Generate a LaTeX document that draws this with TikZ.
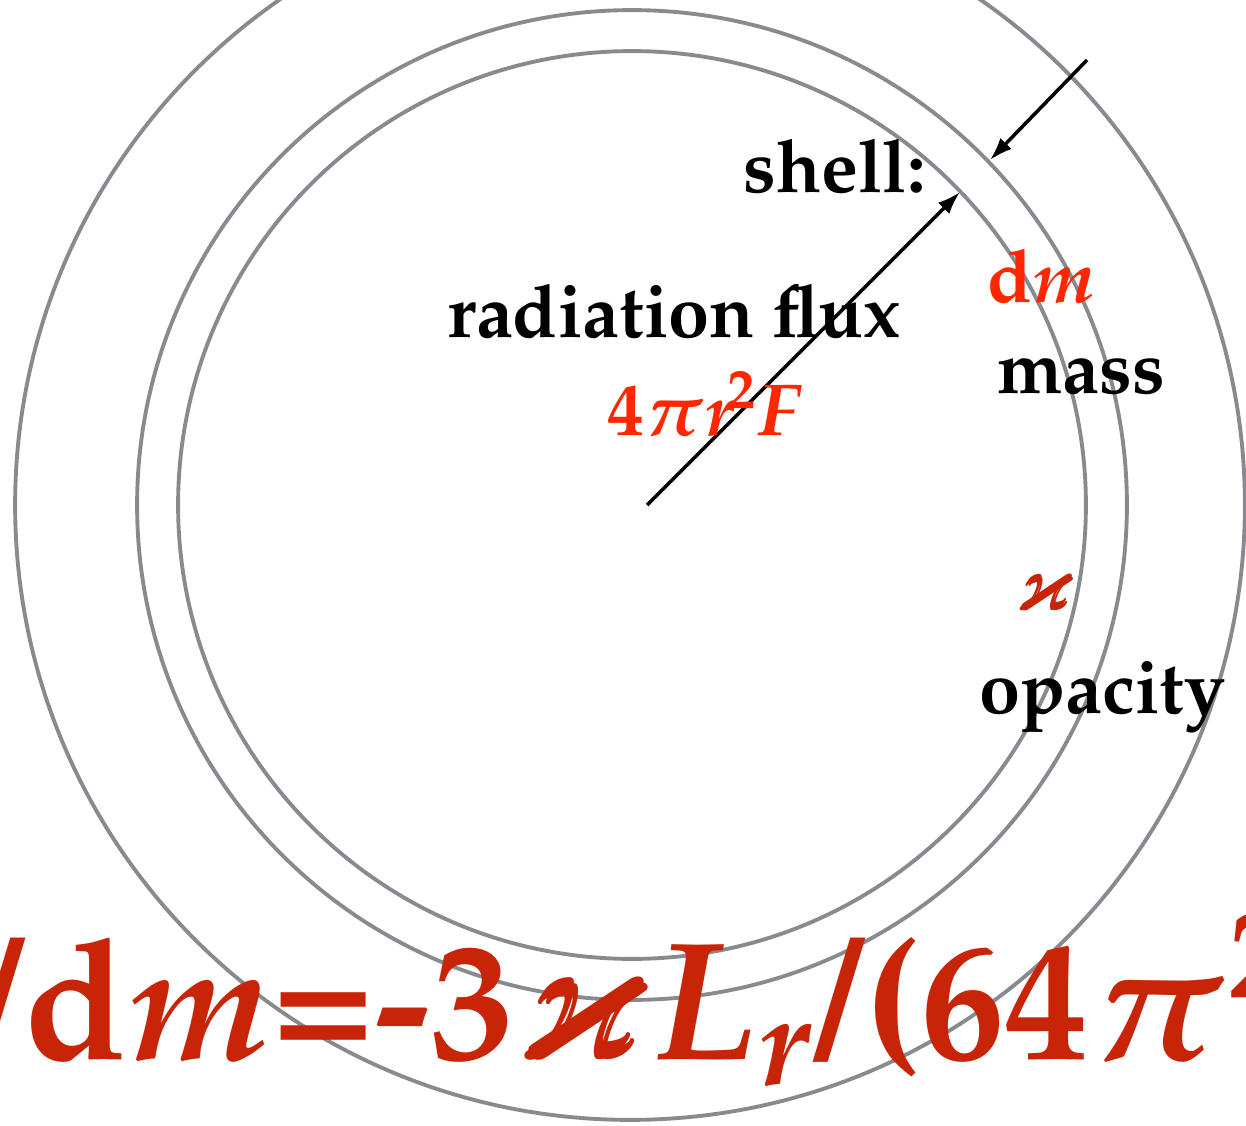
\documentclass[tikz,border=0pt]{standalone}
\usepackage[T1]{fontenc}
\usepackage{mathpazo}
\usepackage{amssymb}
\usepackage{bm}
\usetikzlibrary{arrows.meta}
\definecolor{shellgrey}{RGB}{135,138,143}
\definecolor{hotred}{RGB}{255,38,0}
\definecolor{darkred}{RGB}{200,37,8}
\tikzset{
  >={Latex[length=13pt,width=9pt]},
  shell line/.style={draw=shellgrey,line width=2.2pt},
  flux/.style={->,line width=2pt,draw=black},
  word/.style={anchor=base west,inner sep=0pt,font=\fontsize{42}{50}\selectfont\bfseries},
  sym/.style={anchor=base west,inner sep=0pt,text=#1,font=\fontsize{42}{50}\selectfont\bfseries\boldmath},
  sym/.default=hotred,
}
\begin{document}
\begin{tikzpicture}[x=0.02cm,y=-0.02cm]
    \useasboundingbox (0,0) rectangle (1246,1125);
    \clip (0,0) rectangle (1246,1125);
    \coordinate (ctr) at (632,505);
    % shells
    \draw[shell line] (ctr) circle (9.08cm);
    \draw[shell line] (ctr) circle (9.9cm);
    \draw[shell line] (630,505) circle (12.3cm);
    % arrows
    \coordinate (core) at (647,505); \coordinate (inner) at (960,192);
    \coordinate (far) at (1087,60); \coordinate (outer) at (990,160);
    \draw[flux] (core) -- (inner);
    \draw[flux] (far) -- (outer);
    % labels
    \node[word] (shell) at (743,193) {shell:};
    \node[word] (rad) at (447,337) {radiation flux};
    \node[sym] (flx) at (607,435) {$4\pi r^{\!2}F$};
    \node[sym] (dm) at (987,302) {d$m$};
    \node[word] (mass) at (997,393) {mass};
    \node[sym=darkred] (kap) at (1015,610) {$\bm{\varkappa}$};
    \node[word] (opac) at (979,713) {opacity};
    \node[sym=darkred,font=\fontsize{96}{106}\selectfont\bfseries\boldmath] (eq) at (-26,1059) {/d$m$=-3$\bm{\varkappa}L_r$/(64$\pi^2$};
\end{tikzpicture}
\end{document}
